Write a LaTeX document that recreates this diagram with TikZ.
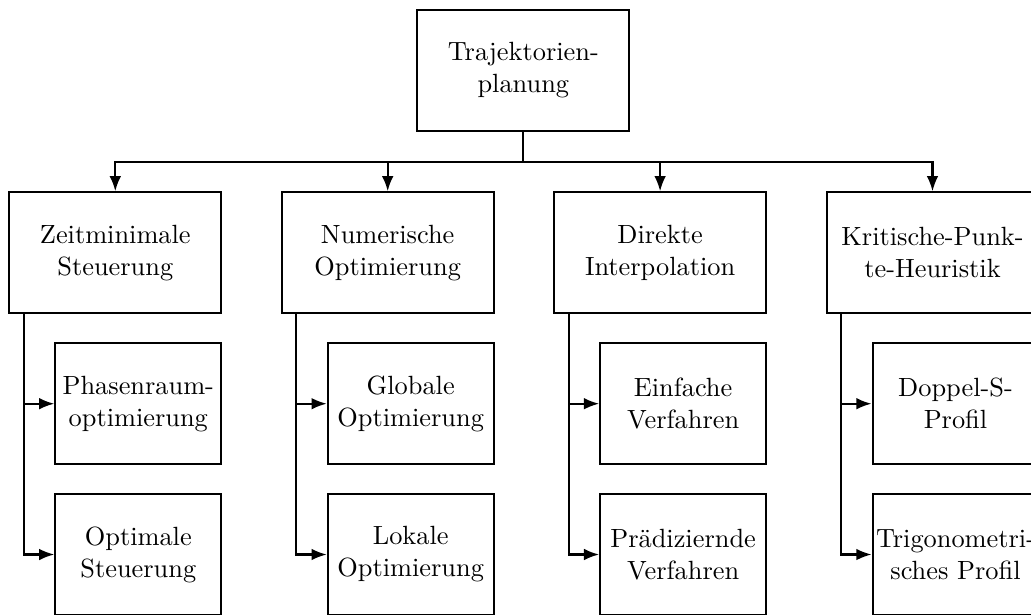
\documentclass[tikz,border=0pt]{standalone}
\usetikzlibrary{arrows.meta}
\begin{document}
\begin{tikzpicture}[x=0.37pt,y=-0.37pt,
  box/.style={draw, line width=0.75pt, inner sep=0pt, align=center,
    minimum width=78.4pt, minimum height=44.8pt,
    font=\fontsize{9.75}{11.8}\selectfont},
  sub/.style={box, minimum width=61.4pt},
  conn/.style={line width=0.75pt},
  arr/.style={line width=0.75pt, -{Latex[length=5.6pt,width=4.3pt]}}]
\useasboundingbox (0,0) rectangle (1031,614);
\clip (0,0) rectangle (1031,614);
\node[box] (top) at (523.3,70.5) {Trajektorien-\\planung};
\coordinate (bus) at (523.3,161.7);
\node[box] (a) at (115.3,252.8) {Zeitminimale\\Steuerung};
\node[box] (b) at (387.7,252.8) {Numerische\\Optimierung};
\node[box] (c) at (660.1,252.8) {Direkte\\Interpolation};
\node[box] (d) at (932.5,252.8) {Kritische-Punk-\\te-Heuristik};
\node[sub] (a1) at (138.3,403.7) {Phasenraum-\\optimierung};
\node[sub] (a2) at (138.3,554.5) {Optimale\\Steuerung};
\node[sub] (b1) at (410.7,403.7) {Globale\\Optimierung};
\node[sub] (b2) at (410.7,554.5) {Lokale\\Optimierung};
\node[sub] (c1) at (683.1,403.7) {Einfache\\Verfahren};
\node[sub] (c2) at (683.1,554.5) {Prädiziernde\\Verfahren};
\node[sub] (d1) at (955.5,403.7) {Doppel-S-\\Profil};
\node[sub] (d2) at (955.5,554.5) {Trigonometri-\\sches Profil};
\draw[conn] (top.south) -- (bus);
\foreach \n in {a,b,c,d}{
  \draw[arr] (top.south |- bus) -| (\n.north);
  \draw[arr] ([xshift=5.8pt]\n.south west) |- (\n1.west);
  \draw[arr] ([xshift=5.8pt]\n.south west) |- (\n2.west);
}
\end{tikzpicture}
\end{document}
